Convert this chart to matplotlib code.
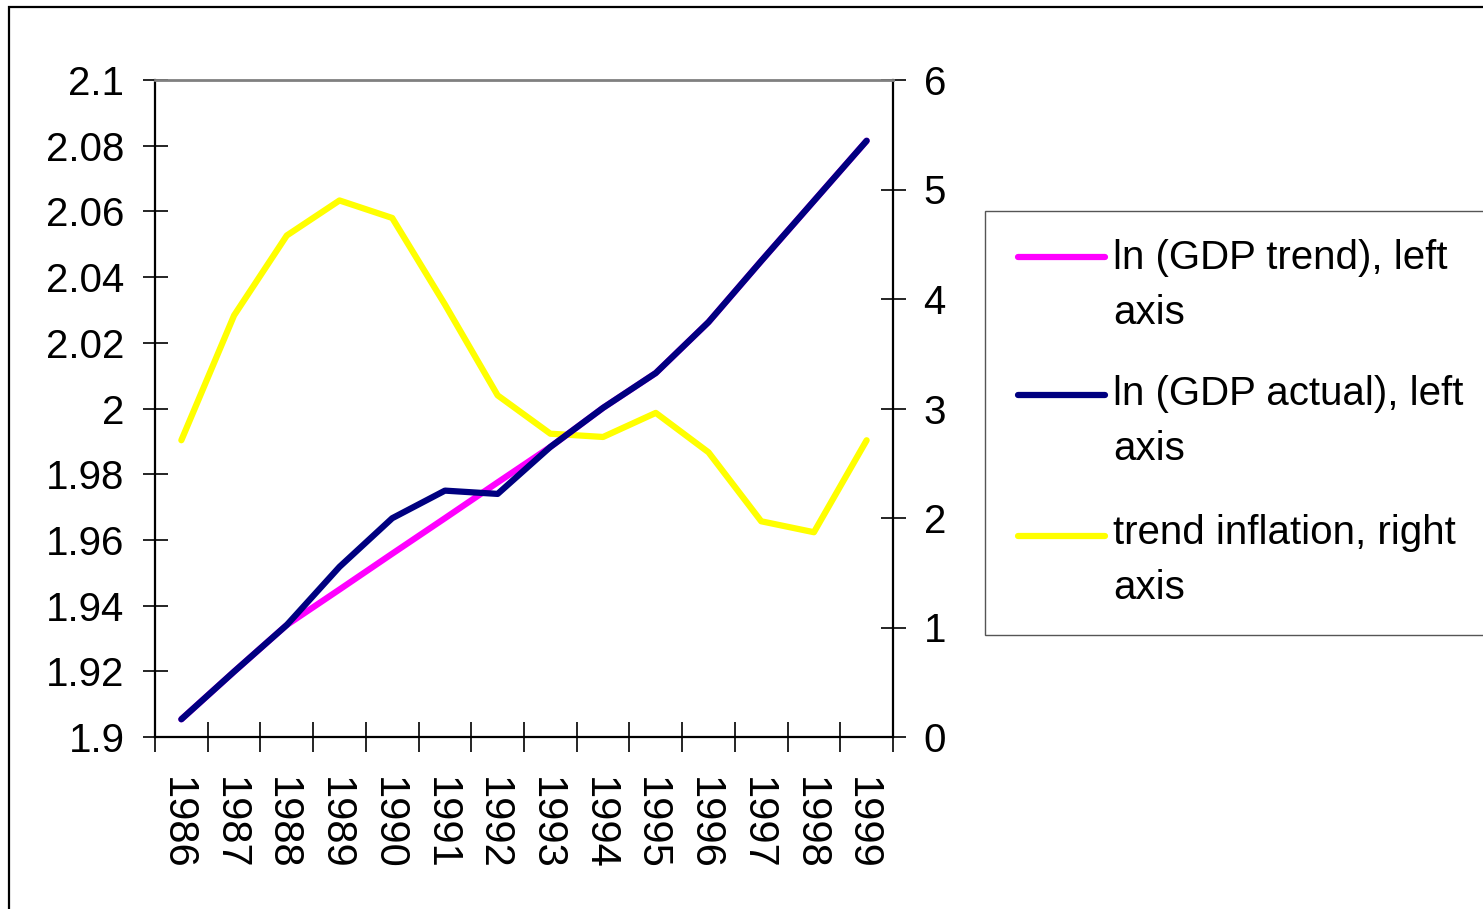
import numpy as np
import matplotlib
matplotlib.use("Agg")
import matplotlib.pyplot as plt
from matplotlib.lines import Line2D
from matplotlib.patches import Rectangle
from matplotlib.ticker import FuncFormatter

plt.rcParams.update({'font.family': ['Liberation Sans', 'DejaVu Sans'], 'font.size': 29})

years = [str(y) for y in range(1986, 2000)]
gdp_trend = [1.9054, 1.9199, 1.9341, 1.9449, 1.9558, 1.9666, 1.9775, 1.9883,
             2.0002, 2.0108, 2.0263, 2.0449, 2.0632, 2.0815]
gdp_actual = [1.9054, 1.9199, 1.9341, 1.9518, 1.9666, 1.9750, 1.9740, 1.9883,
              2.0002, 2.0108, 2.0263, 2.0449, 2.0632, 2.0815]
inflation = [2.71, 3.85, 4.58, 4.90, 4.74, 3.95, 3.12, 2.77,
             2.74, 2.96, 2.60, 1.97, 1.87, 2.71]

PINK = "#FF00FF"; NAVY = "#000080"; YELLOW = "#FFFF00"

W, H = 1483, 909
fig = plt.figure(figsize=(W/100, H/100), dpi=100)
fig.patch.set_facecolor('white')

# plot area in pixels: x 155..893, y 80..737
ax = fig.add_axes([155/W, 1-737/H, (893-155)/W, (737-80)/H])
ax2 = ax.twinx()
ax.set_zorder(ax2.get_zorder() + 1)
ax.patch.set_visible(False)

x = np.arange(len(years))
ax.plot(x, gdp_trend, color=PINK, lw=4.5, solid_capstyle='round', solid_joinstyle='round')
ax.plot(x, gdp_actual, color=NAVY, lw=4.5, solid_capstyle='round', solid_joinstyle='round')
ax2.plot(x, inflation, color=YELLOW, lw=4.5, solid_capstyle='round', solid_joinstyle='round')

ax.set_xlim(-0.5, len(years) - 0.5)
ax.set_ylim(1.9, 2.1)
ax2.set_ylim(0, 6)

ax.set_yticks(np.arange(1.9, 2.1001, 0.02))
ax.yaxis.set_major_formatter(FuncFormatter(lambda v, p: f"{round(v, 2):g}"))
ax2.set_yticks(range(0, 7))

ax.set_xticks(np.arange(-0.5, len(years)), labels=[''] * (len(years) + 1))
ax.set_xticks(x, minor=True)
ax.set_xticklabels(years, minor=True, rotation=-90, fontsize=30,
                   rotation_mode='anchor', ha='left', va='center_baseline')

ax.tick_params(axis='x', which='major', direction='inout', length=21, width=1.2, color='black')
ax.tick_params(axis='x', which='minor', length=0, pad=29)
ax.tick_params(axis='y', direction='inout', length=18, width=1.2, pad=13)
ax2.tick_params(axis='y', direction='inout', length=18, width=1.2, pad=13)

for s in ['left', 'bottom']:
    ax.spines[s].set_linewidth(1.6)
    ax.spines[s].set_color('black')
ax.spines['right'].set_visible(False)
ax.spines['top'].set_color('#808080')
ax.spines['top'].set_linewidth(2)
for s in ['left', 'bottom', 'top']:
    ax2.spines[s].set_visible(False)
ax2.spines['right'].set_linewidth(1.6)
ax2.spines['right'].set_color('black')

# outer chart border (right and bottom run off the image)
fig.add_artist(Rectangle((9/W, -0.1), 1.2, 1.1 - 7.5/H, transform=fig.transFigure,
                         fill=False, edgecolor='black', lw=1.6))

# legend box
fig.add_artist(Rectangle((985/W, 1-635/H), 0.5, (635-211)/H, transform=fig.transFigure,
                         facecolor='white', edgecolor='#555555', lw=1.0))
leg_labels = [["ln (GDP trend), left", "axis"],
              ["ln (GDP actual), left", "axis"],
              ["trend inflation, right", "axis"]]
leg_colors = [PINK, NAVY, YELLOW]
handle_y = [257, 395, 536]
base_y = [269, 405, 544]
for lab, col, hy, by in zip(leg_labels, leg_colors, handle_y, base_y):
    fig.add_artist(Line2D([1018/W, 1105/W], [1-hy/H, 1-hy/H], transform=fig.transFigure,
                          color=col, lw=4.5, solid_capstyle='round'))
    for k, line in enumerate(lab):
        fig.text(1113/W, 1-(by + 55*k)/H, line, ha='left', va='baseline', fontsize=29)

fig.savefig("out.png", dpi=100, facecolor='white')
